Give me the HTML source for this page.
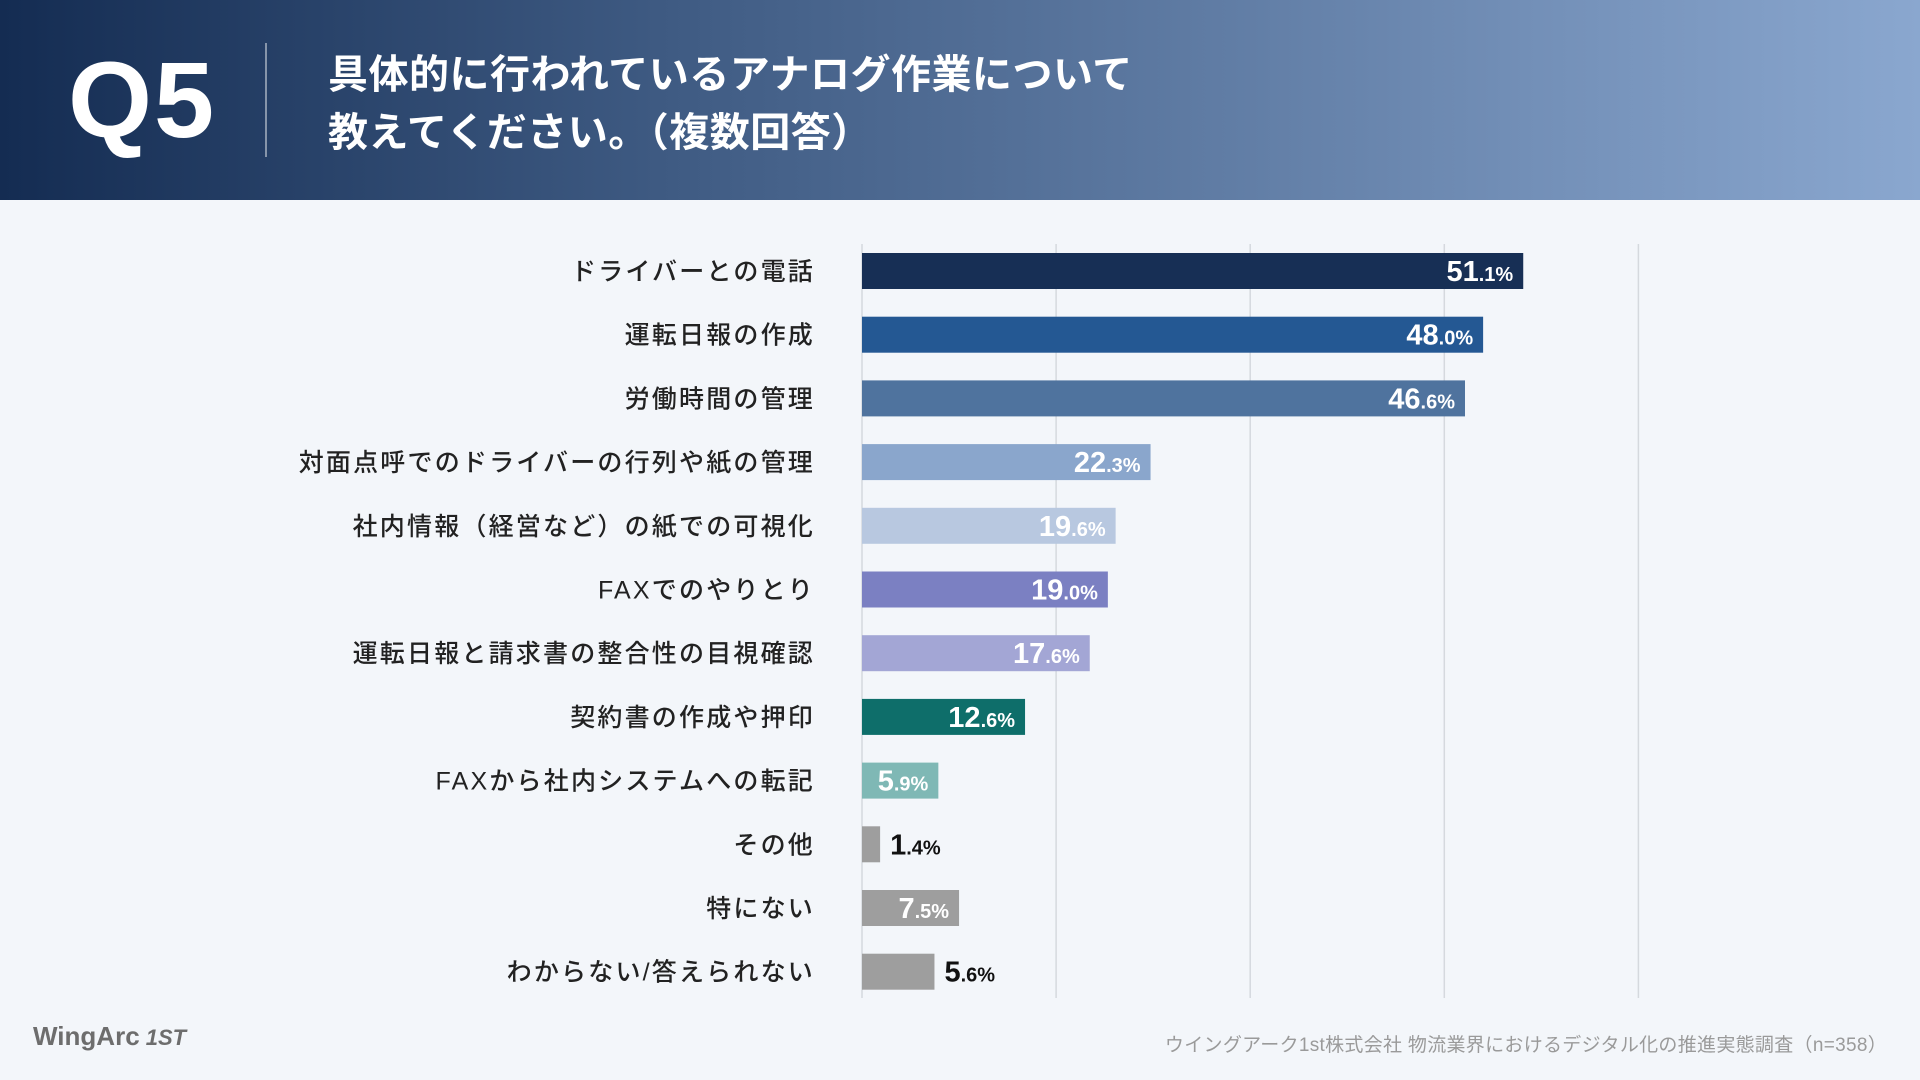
<!DOCTYPE html>
<html><head><meta charset="utf-8">
<style>
body{margin:0;width:1920px;height:1080px;overflow:hidden;background:#f3f6fa;font-family:"Liberation Sans","Noto Sans CJK JP",sans-serif;position:relative}
#header{position:absolute;left:0;top:0;width:1920px;height:200px;background:linear-gradient(90deg,#142c52 0%,#3f5b83 35%,#8aa7cf 100%)}
#q5{position:absolute;left:68px;top:44px;font-size:108px;font-weight:bold;color:#fff;letter-spacing:2px;line-height:112px}
#divider{position:absolute;left:265px;top:43px;width:2px;height:114px;background:rgba(255,255,255,0.45)}
#title{position:absolute;left:328px;top:46px;font-size:40px;font-weight:bold;color:#fff;line-height:58px;letter-spacing:0.5px}
#footer{position:absolute;right:33px;top:1030px;font-size:19px;color:#9a9a9a;letter-spacing:0.3px}
#logo{position:absolute;left:33px;top:1021px;font-size:26px;font-weight:bold;color:#6d6d6d}
</style></head><body>
<div id="header">
<div id="q5">Q5</div>
<div id="divider"></div>
<div id="title">具体的に行われているアナログ作業について<br>教えてください。（複数回答）</div>
</div>
<svg id="chart" width="1920" height="1080" style="position:absolute;left:0;top:0"></svg>
<div id="logo">WingArc<span style="font-style:italic;font-size:22px"> 1ST</span></div>
<div id="footer">ウイングアーク1st株式会社 物流業界におけるデジタル化の推進実態調査（n=358）</div>
<script>
const categories=["ドライバーとの電話","運転日報の作成","労働時間の管理","対面点呼でのドライバーの行列や紙の管理","社内情報（経営など）の紙での可視化","FAXでのやりとり","運転日報と請求書の整合性の目視確認","契約書の作成や押印","FAXから社内システムへの転記","その他","特にない","わからない/答えられない"];
const values=[51.1,48.0,46.6,22.3,19.6,19.0,17.6,12.6,5.9,1.4,7.5,5.6];
const colors=["#172f55","#245893","#4f739e","#8aa6cc","#b8c8e0","#7b80c2","#a3a6d5","#0e6e6a","#7fb8b5","#9e9e9e","#9e9e9e","#9e9e9e"];
const labelInside=[true,true,true,true,true,true,true,true,true,false,true,false];
const gridTicks=[0,15,30,45,60];
const NS="http://www.w3.org/2000/svg";
const svg=document.getElementById('chart');
const x0=862,pxPer=12.94,yTop=271,step=63.7,bh=36;
const xs=v=>x0+v*pxPer;
const ys=i=>yTop+i*step;
function mk(t,a){const e=document.createElementNS(NS,t);for(const k in a)e.setAttribute(k,a[k]);svg.appendChild(e);return e;}
gridTicks.forEach((t,i)=>{
 const l=mk('line',{x1:xs(t),x2:xs(t),y1:244,y2:998,stroke:'#d5d9de','stroke-width':1.5});
 
 
});
categories.forEach((c,i)=>{
 const y=ys(i);
 const lab=mk('text',{x:815,y:y+9,'text-anchor':'end','font-size':25,fill:'#222','font-weight':'500','letter-spacing':'2.2'});
 lab.textContent=c;
 
 
 const r=mk('rect',{x:x0,y:y-bh/2,width:values[i]*pxPer,height:bh,fill:colors[i]});
 
 
 const s=values[i].toFixed(1).split('.');
 const inside=labelInside[i];
 const t=mk('text',{x:inside?xs(values[i])-10:xs(values[i])+10,y:y+10,'text-anchor':inside?'end':'start',fill:inside?'#fff':'#111','font-weight':'bold'});
 
 
 const a=document.createElementNS(NS,'tspan');a.setAttribute('font-size','29');a.textContent=s[0];t.appendChild(a);
 const b=document.createElementNS(NS,'tspan');b.setAttribute('font-size','20');b.textContent='.'+s[1]+'%';t.appendChild(b);
});
</script>
</body></html>
